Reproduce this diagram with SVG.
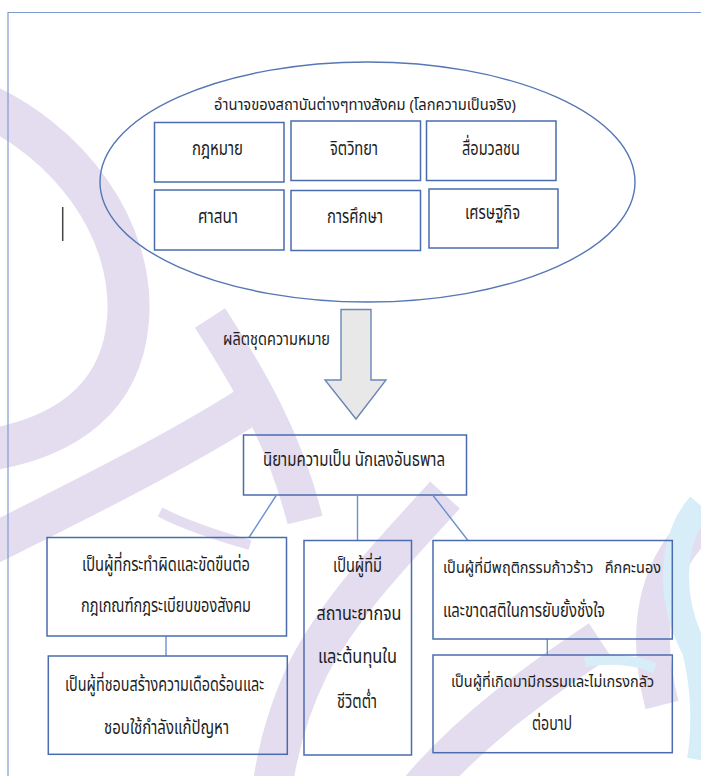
<svg xmlns="http://www.w3.org/2000/svg" width="701" height="776" viewBox="0 0 701 776">
<style>
.wm{fill:none;stroke:#e4ddf0;stroke-linecap:butt}
.wb{fill:none;stroke:#d7eef8;stroke-linecap:butt}
.box{fill:none;stroke:#4a6cae;stroke-width:1.5}
.con{fill:none;stroke:#6b8fd0;stroke-width:1.4}
.t{font-family:'Noto Sans Thai','Noto Sans','DejaVu Sans',sans-serif;fill:#1c1c1c}
</style>
<rect width="701" height="776" fill="#ffffff"/>
<g id="watermark">
<path class="wm" stroke-width="42" d="M -25,100 C 70,140 135,230 128,320 C 122,395 70,440 -25,452"/>
<path class="wm" stroke-width="36" d="M 210,318 C 250,380 285,440 305,520"/>
<path class="wm" stroke-width="40" d="M 250,405 C 180,450 80,500 -10,545"/>
<path class="wm" stroke-width="10" d="M 160,512 C 185,525 215,535 250,545"/>
<path class="wm" stroke-width="40" d="M 445,495 C 400,545 345,600 310,665 C 290,705 278,745 272,790"/>
<path class="wm" stroke-width="40" d="M 600,640 C 540,680 470,730 420,790"/>
<path class="wm" stroke-width="34" d="M 705,520 C 660,560 640,620 662,705"/>
<path class="wb" stroke-width="26" d="M 700,505 C 670,540 668,600 695,650 C 705,690 705,730 700,760"/>
<path class="wb" stroke-width="10" d="M 585,662 C 610,658 635,660 655,668"/>
</g>
<g id="frame">
<path d="M 8,776 L 8,12.5 L 701,12.5" fill="none" stroke="#7f9bcf" stroke-width="1.2"/>
<line x1="62.7" y1="207" x2="62.7" y2="241" stroke="#444" stroke-width="1.5"/>
</g>
<g id="institutions">
<ellipse cx="367.5" cy="182" rx="267.5" ry="120" fill="none" stroke="#5577b5" stroke-width="1.4"/>
<text class="t" x="214" y="110" font-size="15" textLength="302" lengthAdjust="spacingAndGlyphs">อำนาจของสถาบันต่างๆทางสังคม (โลกความเป็นจริง)</text>
</g>
<g id="law"><rect class="box" x="154.5" y="122.5" width="129.5" height="59.5"/><text class="t" x="192" y="155" font-size="20" textLength="51" lengthAdjust="spacingAndGlyphs">กฎหมาย</text></g>
<g id="psychology"><rect class="box" x="291" y="121" width="129.5" height="59.5"/><text class="t" x="330" y="155" font-size="20" textLength="48" lengthAdjust="spacingAndGlyphs">จิตวิทยา</text></g>
<g id="media"><rect class="box" x="426.5" y="121" width="129.5" height="59.5"/><text class="t" x="462" y="155" font-size="20" textLength="58" lengthAdjust="spacingAndGlyphs">สื่อมวลชน</text></g>
<g id="religion"><rect class="box" x="154.5" y="190" width="129.5" height="60"/><text class="t" x="198" y="223" font-size="20" textLength="40" lengthAdjust="spacingAndGlyphs">ศาสนา</text></g>
<g id="education"><rect class="box" x="291" y="190.5" width="129.5" height="60"/><text class="t" x="327" y="223" font-size="20" textLength="56" lengthAdjust="spacingAndGlyphs">การศึกษา</text></g>
<g id="economy"><rect class="box" x="429" y="189" width="129" height="59"/><text class="t" x="465" y="219" font-size="20" textLength="55" lengthAdjust="spacingAndGlyphs">เศรษฐกิจ</text></g>
<g id="produce-arrow">
<polygon points="341,309.5 371,309.5 371,380 386,380 356,419 325,380 341,380" fill="#e8e8e8" stroke="#6c86b8" stroke-width="1.4"/>
<text class="t" x="223" y="345" font-size="18" textLength="107" lengthAdjust="spacingAndGlyphs">ผลิตชุดความหมาย</text>
</g>
<g id="definition"><rect class="box" x="243.5" y="435" width="223" height="60"/><text class="t" x="263" y="466" font-size="20" textLength="182" lengthAdjust="spacingAndGlyphs">นิยามความเป็น นักเลงอันธพาล</text></g>
<g id="connectors">
<line class="con" x1="276.5" y1="495" x2="249" y2="537.5"/>
<line class="con" x1="357.5" y1="495" x2="357.5" y2="540.5"/>
<line class="con" x1="432.7" y1="495" x2="468" y2="540.5"/>
<line class="con" x1="166" y1="636" x2="166" y2="656"/>
<line class="con" x1="547.3" y1="639" x2="547.3" y2="655"/>
</g>
<g id="offender">
<rect class="box" x="47" y="537.5" width="239.5" height="98.5"/>
<text class="t" x="82" y="571" font-size="19" textLength="168" lengthAdjust="spacingAndGlyphs">เป็นผู้ที่กระทำผิดและขัดขืนต่อ</text>
<text class="t" x="81" y="612" font-size="19" textLength="170" lengthAdjust="spacingAndGlyphs">กฎเกณฑ์กฎระเบียบของสังคม</text>
</g>
<g id="troublemaker">
<rect class="box" x="48.3" y="656" width="239" height="98.3"/>
<text class="t" x="65" y="691" font-size="19" textLength="199" lengthAdjust="spacingAndGlyphs">เป็นผู้ที่ชอบสร้างความเดือดร้อนและ</text>
<text class="t" x="104" y="734" font-size="19" textLength="125" lengthAdjust="spacingAndGlyphs">ชอบใช้กำลังแก้ปัญหา</text>
</g>
<g id="poor">
<rect class="box" x="304" y="540.5" width="107.5" height="214.5"/>
<text class="t" x="333" y="572" font-size="19" textLength="49" lengthAdjust="spacingAndGlyphs">เป็นผู้ที่มี</text>
<text class="t" x="316.5" y="620" font-size="19" textLength="85" lengthAdjust="spacingAndGlyphs">สถานะยากจน</text>
<text class="t" x="318" y="663" font-size="19" textLength="79" lengthAdjust="spacingAndGlyphs">และต้นทุนใน</text>
<text class="t" x="337" y="708" font-size="19" textLength="40" lengthAdjust="spacingAndGlyphs">ชีวิตต่ำ</text>
</g>
<g id="aggressive">
<rect class="box" x="433" y="540.5" width="239.3" height="98.5"/>
<text class="t" x="443" y="573" font-size="16" textLength="218" lengthAdjust="spacingAndGlyphs" xml:space="preserve">เป็นผู้ที่มีพฤติกรรมก้าวร้าว   คึกคะนอง</text>
<text class="t" x="443" y="617" font-size="19" textLength="162" lengthAdjust="spacingAndGlyphs">และขาดสติในการยับยั้งชั่งใจ</text>
</g>
<g id="karma">
<rect class="box" x="433" y="655" width="239.3" height="97.7"/>
<text class="t" x="451" y="687" font-size="16" textLength="203" lengthAdjust="spacingAndGlyphs">เป็นผู้ที่เกิดมามีกรรมและไม่เกรงกลัว</text>
<text class="t" x="532" y="730" font-size="19" textLength="40" lengthAdjust="spacingAndGlyphs">ต่อบาป</text>
</g>
</svg>
